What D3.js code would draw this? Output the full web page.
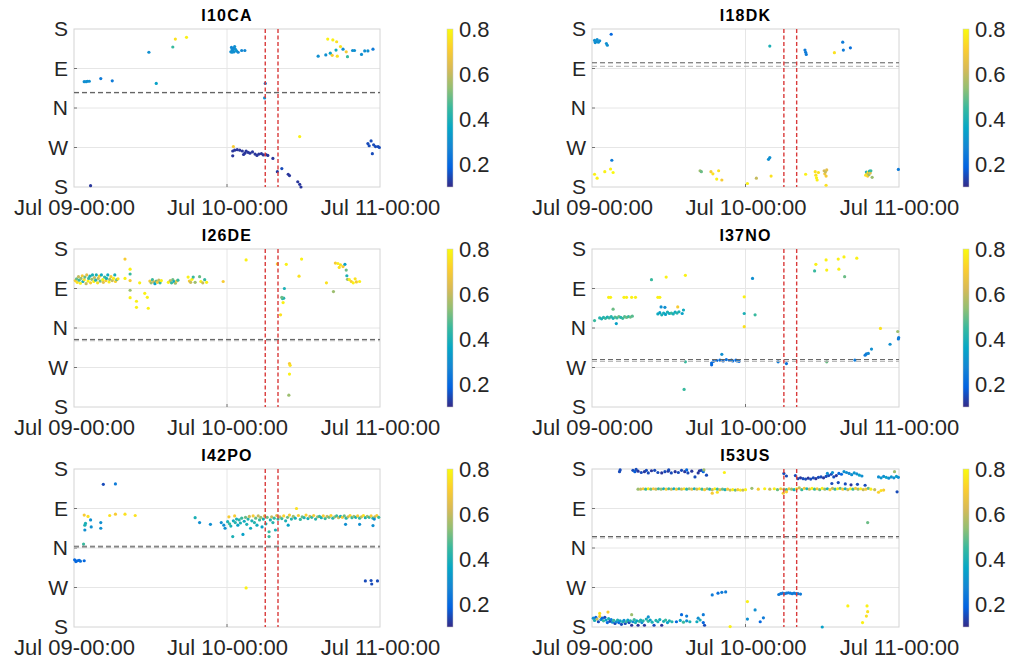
<!DOCTYPE html>
<html>
<head>
<meta charset="utf-8">
<script src="https://cdn.jsdelivr.net/npm/d3@7"></script>
<style>
  body { margin: 0; background: #fff; }
  svg text { font-family: "Liberation Sans", Arial, Helvetica, sans-serif; fill: #262626; }
</style>
</head>
<body>
<svg id="fig" width="1012" height="664"></svg>
<script>

// each point: [hours after Jul 09 00:00, back azimuth (deg, S=-180 .. S=180), colour value]
var i10ca = [
  [1.6,60,.3],[1.9,60,.3],[2.1,61,.3],[2.4,61,.3],[2.6,-177,.12],[4.2,67,.25],[6.0,62,.25],
  [11.75,127,.3],[12.9,56,.35],[15.5,139,.45],[15.9,157,.75],[17.65,161,.78],
  [24.6,128,.3],[24.7,138,.28],[24.8,133,.3],[24.9,130,.3],[25.0,136,.28],[25.1,128,.3],[25.2,140,.3],
  [25.3,134,.3],[25.5,130,.32],[24.8,127,.3],[25.75,127,.28],[26.3,131,.28],[26.8,131,.28],
  [30.0,56,.25],[29.9,23,.3],
  [25.0,-88,.7],[24.9,-98,.12],[24.9,-109,.12],[25.2,-96,.12],[25.6,-95,.12],[26.0,-96,.12],[26.4,-98,.12],
  [26.8,-103,.12],[27.0,-98,.12],[27.6,-103,.12],[28.0,-100,.12],[28.4,-105,.12],[28.7,-108,.12],[29.0,-105,.12],
  [29.4,-104,.12],[29.7,-107,.12],[30.1,-106,.12],[30.4,-108,.12],[26.6,-106,.12],[27.3,-101,.12],[31.2,-115,.12],
  [31.9,-145,.12],[32.6,-138,.15],[33.6,-151,.12],[33.8,-154,.12],[35.1,-168,.12],[35.4,-174,.12],[35.6,-180,.12],
  [35.4,-65,.78],
  [38.3,118,.3],[39.5,121,.3],[39.8,157,.78],[40.2,125,.35],[40.6,155,.78],[41.1,132,.38],[41.2,151,.75],
  [40.5,120,.7],[41.3,118,.75],[41.8,140,.75],[42.2,134,.3],[42.9,117,.45],[42.7,128,.7],[43.7,131,.3],
  [44.0,131,.3],[45.1,122,.3],[45.6,130,.3],[46.1,130,.3],[46.9,134,.25],
  [46.1,-81,.15],[46.6,-75,.15],[46.3,-86,.15],[46.8,-104,.15],[47.0,-84,.15],[47.3,-88,.15],[47.7,-88,.15],[47.9,-90,.15]
];

var i18dk = [
  [0.4,154,.3],[0.6,151,.3],[0.8,156,.3],[1.0,150,.3],[1.2,153,.3],[0.5,149,.3],[2.25,147,.3],[2.4,143,.3],[3.0,168,.2],
  [27.8,141,.4],[33.3,132,.25],[33.4,127,.25],[33.5,122,.25],[37.9,126,.75],[39.2,150,.25],[39.3,132,.25],[40.4,137,.22],
  [3.1,-119,.25],[0.4,-151,.78],[0.8,-160,.78],[2.0,-145,.78],[2.9,-139,.78],[3.3,-147,.8],
  [16.9,-143,.55],[17.1,-145,.5],[18.6,-145,.7],[18.9,-150,.75],[19.5,-162,.78],[19.8,-143,.75],[20.3,-164,.7],
  [24.3,-172,.78],[25.7,-160,.6],[28.0,-155,.75],[27.6,-117,.3],[27.8,-113,.3],
  [33.4,-151,.78],[34.9,-145,.75],[35.0,-153,.75],[35.1,-159,.78],[35.2,-164,.78],[35.4,-147,.75],
  [36.3,-143,.62],[36.4,-150,.68],[36.5,-145,.6],[36.6,-155,.7],[36.7,-141,.65],[36.6,-176,.75],
  [42.9,-146,.4],[43.0,-150,.6],[43.1,-155,.7],[43.2,-146,.75],[43.3,-152,.55],[43.4,-144,.4],[43.5,-148,.65],
  [43.6,-143,.45],[42.8,-153,.75],[43.8,-158,.55],
  [47.9,-140,.25]
];

var i26de = [
  [0.2,108,.7],[0.4,112,.5],[0.5,104,.75],[0.7,117,.6],[0.8,109,.45],[1.0,102,.78],[1.1,113,.55],[1.3,119,.7],
  [1.4,106,.4],[1.6,110,.75],[1.7,116,.5],[1.9,101,.6],[2.0,121,.65],[2.2,107,.78],[2.3,113,.45],[2.5,118,.4],
  [2.6,103,.7],[2.8,111,.55],[2.9,121,.4],[3.1,106,.78],[3.2,115,.6],[3.4,109,.42],[3.5,121,.4],[3.7,103,.75],
  [3.8,113,.6],[4.0,118,.72],[4.1,107,.5],[4.3,121,.38],[4.5,110,.78],[4.6,104,.65],[4.8,116,.45],[5.0,108,.7],
  [5.1,113,.4],[5.3,121,.38],[5.5,105,.78],[5.6,111,.55],[5.8,117,.7],[6.0,108,.6],[6.2,113,.78],[6.4,121,.4],
  [6.5,106,.72],[6.7,110,.5],[6.9,112,.75],
  [8.0,157,.7],[8.8,134,.78],[8.8,123,.45],[8.0,113,.78],[8.8,108,.7],[8.8,86,.55],[8.8,69,.78],[9.8,61,.78],
  [9.8,47,.78],[10.3,103,.78],[11.1,79,.78],[11.5,70,.78],[11.65,45,.78],
  [11.9,107,.7],[12.1,103,.55],[12.3,110,.45],[12.5,105,.6],[12.7,101,.35],[12.9,107,.5],[13.1,104,.7],
  [13.3,109,.6],[13.5,103,.45],[13.7,108,.78],
  [14.8,104,.78],[15.1,108,.6],[15.3,103,.45],[15.5,110,.5],[15.7,106,.38],[15.9,102,.55],[16.1,107,.7],[16.3,109,.45],
  [17.9,116,.78],[18.1,107,.7],[18.3,104,.6],[18.5,111,.78],[18.7,116,.45],[19.0,104,.55],
  [19.7,117,.5],[19.9,106,.78],[20.2,103,.6],[20.5,110,.45],[20.8,104,.78],
  [23.4,106,.7],[27.0,155,.78],
  [31.9,146,.7],[33.3,145,.78],[35.7,157,.78],[35.3,118,.75],[33.0,90,.4],[32.7,67,.45],[32.9,68,.42],
  [32.6,70,.5],[32.8,58,.78],[32.4,30,.75],
  [33.8,-81,.7],[33.9,-85,.75],[33.8,-105,.78],[33.7,-153,.55],
  [39.6,103,.75],[40.7,83,.55],[41.4,147,.78],[41.8,144,.75],[42.2,140,.7],[42.5,145,.35],[42.7,132,.5],
  [42.8,119,.4],[42.9,111,.55],[43.2,110,.78],[43.5,106,.7],[43.8,103,.78],[44.1,112,.75],[44.3,105,.7],
  [44.8,106,.78],[41.0,148,.7],[41.6,138,.75]
];

var i37no = [
  [2.6,70,.78],[2.9,70,.78],[5.0,70,.78],[5.4,70,.78],[6.2,70,.78],[6.8,70,.78],[10.3,70,.78],[10.6,70,.78],
  [0.4,17,.45],[1.2,23,.42],[1.5,21,.4],[1.8,24,.42],[2.1,22,.45],[2.4,25,.4],[2.7,23,.45],[3.0,26,.42],
  [3.3,22,.4],[3.6,25,.48],[3.9,23,.45],[4.2,26,.5],[4.5,24,.42],[4.8,22,.45],[5.1,26,.48],[5.4,24,.5],
  [5.7,26,.45],[6.0,25,.5],[6.3,27,.48],[3.3,43,.5],[3.8,10,.35],
  [10.3,32,.38],[10.6,35,.35],[10.9,30,.4],[11.2,34,.38],[11.5,31,.35],[11.8,36,.4],[12.1,33,.38],[12.4,34,.45],
  [12.7,32,.4],[13.0,36,.38],[13.3,34,.42],[13.6,37,.4],[14.1,33,.35],[14.3,41,.38],[10.8,48,.3],[11.4,47,.3],[13.4,48,.7],
  [9.3,110,.45],[11.6,116,.78],[14.6,120,.78],[14.6,-77,.45],[14.4,-140,.45],
  [18.7,-80,.2],[19.0,-76,.22],[19.5,-74,.2],[20.0,-73,.22],[20.5,-75,.2],[21.0,-72,.22],[21.5,-74,.2],
  [22.0,-75,.22],[22.5,-73,.2],[23.0,-76,.2],[18.7,-84,.2],[20.3,-60,.3],[21.8,-73,.25],[22.7,-75,.25],
  [23.8,71,.78],[23.8,3,.75],[23.8,33,.4],[25.5,30,.45],[25.1,113,.3],
  [29.1,-77,.25],[30.4,-81,.22],
  [34.8,130,.45],[35.0,145,.78],[36.6,155,.78],[36.7,132,.78],[38.5,157,.78],[38.6,134,.78],[39.4,162,.78],
  [39.5,117,.5],[41.4,159,.78],
  [36.7,-77,.5],[41.1,-73,.25],[42.7,-62,.25],[42.9,-59,.25],[43.2,-58,.28],[43.7,-48,.3],[45.1,-1,.75],
  [46.6,-37,.3],[47.8,-8,.55],[47.9,-25,.25],[47.95,-22,.25]
];

var i42po = [
  [4.6,145,.15],[6.5,146,.25],
  [1.6,75,.7],[2.2,72,.75],[5.6,74,.75],[6.5,77,.7],[8.0,77,.75],[9.6,74,.75],
  [1.7,52,.4],[1.7,41,.3],[1.8,56,.4],[2.6,64,.3],[2.7,48,.3],[4.2,58,.3],[4.2,45,.3],[1.5,9,.45],
  [0.1,-27,.2],[0.3,-31,.2],[0.5,-29,.2],[0.8,-28,.2],[1.0,-30,.22],[1.6,-29,.2],
  [27.0,-91,.78],
  [19.0,69,.4],[19.7,58,.3],[21.4,54,.3],[23.1,58,.3],[23.5,52,.3],[23.7,45,.3],[24.3,71,.7],[25.2,73,.7],
  [24.1,60,.4],[24.4,55,.45],[24.6,50,.4],[24.9,26,.4],[25.0,62,.38],[25.3,58,.42],[25.5,66,.4],[25.7,52,.35],
  [25.9,64,.42],[26.1,57,.4],[26.3,68,.45],[26.5,31,.35],[26.7,61,.38],[26.9,70,.5],[27.1,54,.4],[27.3,66,.42],
  [27.5,72,.6],[27.7,45,.38],[27.9,62,.4],[28.1,73,.7],[28.3,58,.42],[28.5,68,.5],[28.7,52,.38],[28.9,73,.6],
  [29.1,64,.45],[29.3,70,.55],[29.5,48,.35],[29.7,66,.4],[29.9,73,.65],[30.1,55,.4],[30.3,70,.5],[30.6,37,.45],
  [30.6,26,.45],[30.8,64,.4],[31.0,71,.6],[31.2,58,.42],[31.4,68,.45],[31.6,41,.4],[31.8,74,.65],[32.0,66,.42],
  [32.3,71,.6],[32.6,67,.45],[32.9,73,.72],[33.2,62,.4],[33.5,70,.5],[33.8,75,.7],[34.1,66,.42],[34.4,72,.55],
  [34.7,68,.4],[34.9,90,.75],[35.2,74,.7],[35.5,65,.45],[35.8,71,.5],[36.1,69,.42],[36.4,75,.72],[36.7,67,.4],
  [37.0,72,.6],[37.3,70,.45],[37.6,74,.7],[37.9,66,.42],[38.2,71,.55],[38.5,72,.45],[38.8,69,.4],[39.1,73,.7],
  [39.4,67,.45],[39.7,72,.6],[40.0,70,.5],[40.3,74,.72],[40.6,68,.42],[40.9,71,.55],[41.2,73,.45],[41.5,69,.6],
  [41.8,72,.4],[42.1,70,.7],[42.4,73,.5],[42.7,68,.42],[43.0,71,.6],[43.3,74,.72],[43.6,69,.45],[43.9,72,.55],
  [44.2,70,.4],[44.5,73,.7],[44.8,68,.45],[45.1,71,.6],[45.4,74,.75],[45.7,69,.4],[46.0,72,.55],[46.3,70,.45],
  [46.6,73,.7],[46.9,68,.42],[47.2,71,.6],[47.5,74,.7],[47.8,70,.45],
  [33.6,52,.35],[42.6,54,.3],[44.8,54,.3],[46.9,51,.3],[47.1,66,.3],
  [45.7,-75,.15],[46.6,-74,.15],[46.7,-82,.15],[47.6,-75,.15]
];

var i53us = [
  [4.3,174,.15],[4.4,178,.15],[6.4,177,.15],[6.7,174,.18],[7.2,175,.12],[7.7,172,.15],[8.2,174,.12],[8.8,171,.15],
  [9.3,176,.12],[9.8,177,.15],[10.3,172,.15],[10.9,171,.12],[11.4,174,.15],[11.9,175,.12],[12.4,171,.15],[13.0,174,.12],
  [13.5,172,.15],[14.0,177,.15],[14.5,174,.12],[15.0,171,.15],[15.6,175,.12],[16.1,162,.15],[16.6,171,.12],[17.1,177,.15],
  [17.4,174,.2],[17.9,166,.15],[17.5,178,.55],[20.7,172,.78],[6.9,179,.15],[8.5,177,.15],[12.0,178,.15],[14.8,178,.2],[16.8,176,.12],
  [7.2,134,.55],[7.6,134,.6],[8.0,135,.7],[8.4,134,.45],[8.8,135,.78],[9.2,134,.5],[9.6,135,.7],[10.0,134,.6],
  [10.4,135,.45],[10.8,134,.55],[11.2,135,.4],[11.6,134,.7],[12.0,135,.45],[12.4,134,.6],[12.8,135,.38],[13.2,134,.7],
  [13.6,135,.45],[14.0,134,.6],[14.4,135,.75],[14.8,134,.42],[15.2,135,.55],[15.6,134,.65],[16.0,135,.4],[16.4,134,.6],
  [16.8,135,.75],[17.2,134,.45],[17.6,133,.7],[18.0,135,.55],[18.4,134,.4],[18.8,133,.6],[19.2,135,.78],[19.6,134,.45],
  [20.0,133,.65],[20.4,134,.5],[20.8,133,.4],[21.2,134,.7],[21.6,132,.6],[22.0,133,.78],[22.4,132,.5],[22.8,133,.7],
  [23.2,132,.78],[23.6,132,.6],[24.0,133,.78],[18.8,125,.7],[19.6,127,.75],
  [0.2,-160,.3],[0.4,-165,.4],[0.6,-158,.2],[0.8,-162,.6],[1.0,-168,.15],[1.2,-156,.7],[1.4,-163,.3],[1.6,-160,.2],
  [1.8,-166,.45],[2.0,-158,.15],[2.2,-164,.35],[2.4,-170,.2],[2.6,-161,.4],[2.8,-167,.15],[3.0,-163,.25],[3.2,-169,.3],
  [3.4,-165,.45],[3.6,-172,.15],[3.8,-168,.3],[4.0,-164,.4],[4.2,-170,.2],[4.4,-166,.35],[4.6,-174,.15],[4.8,-168,.4],
  [5.0,-165,.3],[5.2,-172,.15],[5.4,-168,.45],[5.6,-164,.35],[5.8,-170,.15],[6.0,-166,.4],[6.2,-176,.12],[6.4,-168,.3],
  [6.6,-163,.45],[6.8,-170,.4],[7.0,-166,.35],[7.2,-176,.12],[7.4,-167,.45],[7.6,-164,.4],[7.8,-170,.3],[8.0,-166,.42],
  [8.2,-176,.12],[8.5,-162,.4],[8.8,-167,.45],[9.1,-164,.35],[9.4,-169,.4],[9.7,-176,.15],[10.0,-165,.42],[10.3,-168,.4],
  [10.6,-163,.38],[10.9,-176,.12],[11.2,-167,.4],[11.5,-164,.45],[11.8,-170,.35],[12.1,-166,.4],[12.5,-168,.42],
  [13.2,-168,.2],[13.8,-165,.35],[14.3,-169,.45],[14.8,-166,.3],[15.3,-168,.4],[16.4,-168,.38],[16.9,-164,.4],
  [17.4,-170,.2],[17.6,-176,.15],
  [1.2,-149,.75],[2.5,-146,.7],[6.2,-152,.55],[8.8,-157,.3],[14.0,-152,.2],[14.8,-155,.25],[16.6,-160,.3],[17.4,-152,.25],
  [18.8,-107,.25],[19.7,-103,.22],[20.3,-101,.25],[20.9,-100,.25],
  [24.3,-122,.78],[24.3,-162,.3],[25.5,-141,.3],[26.3,-168,.2],[26.8,-159,.25],[21.6,-179,.78],
  [29.2,-106,.25],[29.5,-104,.25],[29.8,-103,.25],[30.1,-104,.25],[30.4,-103,.25],[30.7,-102,.25],[31.0,-103,.25],
  [31.3,-104,.25],[31.6,-103,.25],[31.9,-104,.25],[32.2,-104,.25],[32.6,-105,.25],
  [30.0,170,.15],[30.4,164,.15],[31.8,165,.15],[32.2,158,.15],[32.6,160,.12],[33.0,158,.15],[33.4,157,.15],[33.8,159,.12],
  [34.2,157,.15],[34.6,160,.15],[35.0,158,.12],[35.4,161,.15],[35.8,162,.15],[36.2,160,.12],[36.6,163,.15],[37.0,165,.15],
  [37.4,168,.15],[37.8,162,.15],[38.2,165,.12],[38.6,170,.2],[39.0,168,.2],[37.6,172,.3],[39.4,174,.3],[39.8,172,.3],
  [40.2,170,.28],[40.6,167,.3],[41.0,171,.32],[41.4,169,.3],[41.8,166,.35],[42.2,164,.3],[36.8,170,.3],
  [37.5,147,.15],[38.5,149,.15],[39.6,146,.15],[40.5,144,.12],[41.5,145,.15],[42.7,143,.15],
  [44.8,162,.3],[45.2,160,.32],[45.6,163,.3],[46.0,161,.35],[46.4,159,.3],[46.8,162,.32],[47.2,160,.3],[47.6,163,.35],
  [47.9,161,.3],[47.3,174,.55],[47.7,128,.15],
  [25.0,136,.55],[26.0,134,.7],[27.0,135,.78],[27.8,134,.6],[28.5,135,.78],[29.0,133,.5],[29.5,135,.7],[30.0,134,.6],
  [30.4,133,.45],[30.8,135,.7],[31.2,134,.55],[31.6,133,.4],[32.0,135,.78],[32.4,137,.6],[32.8,133,.45],[33.2,136,.7],
  [33.6,135,.4],[34.0,134,.6],[34.4,136,.78],[34.8,134,.45],[35.2,135,.7],[35.6,133,.5],[36.0,136,.78],[36.4,134,.55],
  [36.8,135,.4],[37.2,133,.7],[37.6,136,.6],[38.0,134,.45],[38.4,135,.78],[38.8,136,.5],[39.2,134,.7],[39.6,135,.4],
  [40.0,133,.6],[40.4,135,.78],[40.8,134,.45],[41.2,136,.7],[41.6,134,.55],[42.0,135,.78],[42.4,133,.6],[42.8,134,.7],
  [43.2,136,.5],[43.6,134,.78],[44.2,133,.6],[44.8,127,.72],[45.2,131,.75],[45.6,132,.7],[29.9,125,.7],[30.4,128,.72],
  [43.1,58,.5],
  [40.0,-132,.78],[43.0,-132,.78],[43.1,-145,.75],[42.9,-155,.75],[42.3,-170,.78],[36.0,-180,.35]
];

var stations = ["I10CA", "I18DK", "I26DE", "I37NO", "I42PO", "I53US"];
var stationData = [i10ca, i18dk, i26de, i37no, i42po, i53us];
// two reference azimuths per station (dark, light)
var refAzimuths = [[35.5, 34], [103, 95], [-26, -29], [-72, -76], [4, 1], [26, 23]];
var eventHours = [30, 32];
var yTickValues = [-180, -90, 0, 90, 180];
var yTickLabels = ["S", "W", "N", "E", "S"];
var xTickHours = [0, 24, 48];
var cbTicks = [0.2, 0.4, 0.6, 0.8];
var cbDomain = [0.1, 0.8];

var parula = ["#352a87", "#0363e1", "#1485d4", "#06a7c6", "#38b99e", "#92bf73", "#d9ba56", "#fcce2e", "#f9fb0e"];

var svg = d3.select("#fig");
var t0 = Date.UTC(2019, 6, 9);
function toDate(h) { return new Date(t0 + h * 3600e3); }

var colLeft = [74, 592], colWidth = [306, 307], rowTop = [29, 249, 469], plotH = 158;
var cbLeft = [447, 963], cbW = 6;

var color = d3.scaleLinear()
    .domain(parula.map(function(c, i) { return cbDomain[0] + i * (cbDomain[1] - cbDomain[0]) / (parula.length - 1); }))
    .range(parula)
    .clamp(true);

var grad = svg.append("defs").append("linearGradient")
    .attr("id", "parula").attr("x1", 0).attr("y1", 1).attr("x2", 0).attr("y2", 0);
parula.forEach(function(c, i) {
  grad.append("stop").attr("offset", (i / (parula.length - 1) * 100) + "%").attr("stop-color", c);
});

var drawPanel = function(k) {
  var col = k % 2, row = Math.floor(k / 2);
  var left = colLeft[col], w = colWidth[col], top = rowTop[row];
  var g = svg.append("g").attr("transform", "translate(" + left + "," + top + ")");

  var x = d3.scaleUtc().domain([toDate(0), toDate(48)]).range([0, w]);
  var y = d3.scaleLinear().domain([-180, 180]).range([plotH, 0]);

  // grid
  g.selectAll(".hgrid").data([-90, 0, 90]).enter().append("line")
      .attr("x1", 0).attr("x2", w).attr("y1", y).attr("y2", y)
      .attr("stroke", "#e6e6e6").attr("stroke-width", 1);
  g.append("line")
      .attr("x1", x(toDate(24))).attr("x2", x(toDate(24))).attr("y1", 0).attr("y2", plotH)
      .attr("stroke", "#e6e6e6").attr("stroke-width", 1);

  g.append("rect").attr("width", w).attr("height", plotH)
      .attr("fill", "none").attr("stroke", "#d4d4d4").attr("stroke-width", 1);

  // small inward ticks
  g.selectAll(".yt").data([-90, 0, 90]).enter().append("line")
      .attr("x1", 0).attr("x2", 3).attr("y1", y).attr("y2", y)
      .attr("stroke", "#555").attr("stroke-width", 0.8);
  g.append("line")
      .attr("x1", x(toDate(24))).attr("x2", x(toDate(24))).attr("y1", plotH).attr("y2", plotH - 3)
      .attr("stroke", "#555").attr("stroke-width", 0.8);

  // points
  g.selectAll("circle").data(stationData[k]).enter().append("circle")
      .attr("cx", function(d) { return x(toDate(d[0])); })
      .attr("cy", function(d) { return y(d[1]); })
      .attr("r", 1.6)
      .attr("fill", function(d) { return color(d[2]); });

  // reference azimuths
  var ref = refAzimuths[k];
  g.append("line").attr("x1", 0).attr("x2", w).attr("y1", y(ref[1])).attr("y2", y(ref[1]))
      .attr("stroke", "#b0b0b0").attr("stroke-width", 1).attr("stroke-dasharray", "5,3");
  g.append("line").attr("x1", 0).attr("x2", w).attr("y1", y(ref[0])).attr("y2", y(ref[0]))
      .attr("stroke", "#5a5a5a").attr("stroke-width", 1).attr("stroke-dasharray", "5,3");

  // event window
  g.selectAll(".ev").data(eventHours).enter().append("line")
      .attr("x1", function(d) { return x(toDate(d)); })
      .attr("x2", function(d) { return x(toDate(d)); })
      .attr("y1", 0).attr("y2", plotH)
      .attr("stroke", "#d93a3a").attr("stroke-width", 1.4).attr("stroke-dasharray", "4,2.5");

  // axes labels
  g.append("g")
      .call(d3.axisLeft(y).tickValues(yTickValues).tickFormat(function(d, i) { return yTickLabels[i]; })
        .tickSize(0).tickPadding(6))
      .call(function(a) { a.select(".domain").remove(); })
      .selectAll("text").attr("font-size", 21).attr("font-family", null);

  g.append("g")
      .attr("transform", "translate(0," + plotH + ")")
      .call(d3.axisBottom(x).tickValues(xTickHours.map(toDate)).tickFormat(d3.utcFormat("%b %d-%H:%M"))
        .tickSize(0).tickPadding(12))
      .call(function(a) { a.select(".domain").remove(); })
      .selectAll("text").attr("font-size", 22).attr("font-family", null);

  g.append("text")
      .attr("x", w / 2).attr("y", -8)
      .attr("text-anchor", "middle")
      .attr("font-size", 16).attr("font-weight", "bold")
      .attr("letter-spacing", 1.2)
      .style("fill", "#000")
      .text(stations[k]);

  // colorbar
  var cb = svg.append("g").attr("transform", "translate(" + cbLeft[col] + "," + top + ")");
  var cy = d3.scaleLinear().domain(cbDomain).range([plotH, 0]);
  cb.append("rect").attr("width", cbW).attr("height", plotH)
      .attr("fill", "url(#parula)").attr("stroke", "#c8c8c8").attr("stroke-width", 0.5);
  cb.append("g")
      .attr("transform", "translate(" + cbW + ",0)")
      .call(d3.axisRight(cy).tickValues(cbTicks).tickFormat(d3.format(".1f")).tickSize(0).tickPadding(6))
      .call(function(a) { a.select(".domain").remove(); })
      .selectAll("text").attr("font-size", 22).attr("font-family", null);
};

for (var k = 0; k < stations.length; k++) {
  drawPanel(k);
}

</script>
</body>
</html>
